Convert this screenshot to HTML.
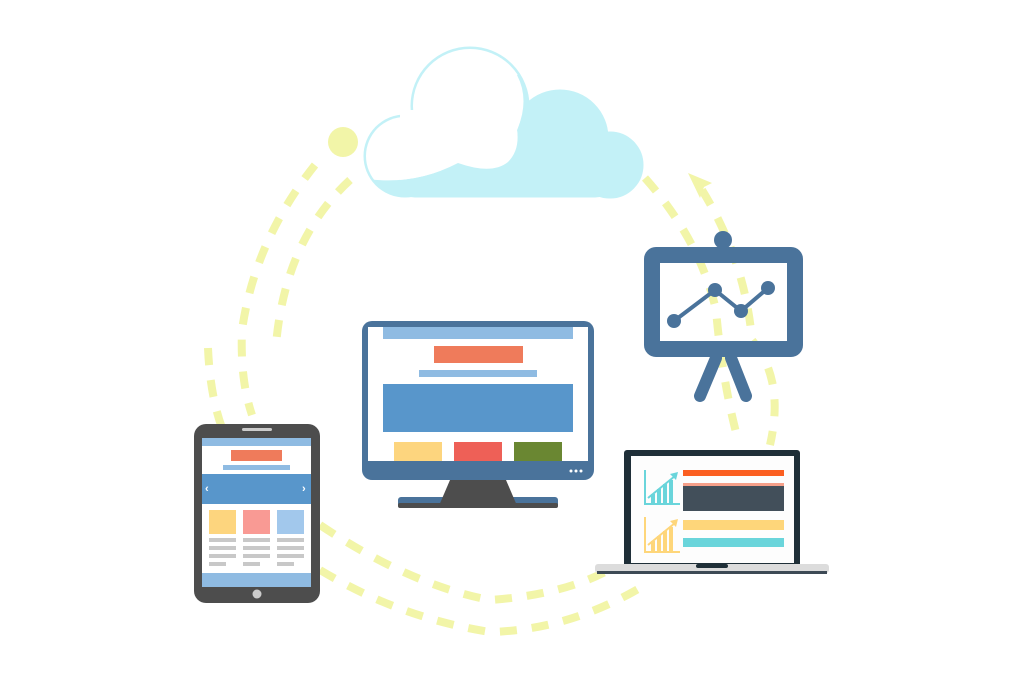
<!DOCTYPE html>
<html><head><meta charset="utf-8"><style>html,body{margin:0;padding:0;background:#fff}svg{display:block}</style></head>
<body>
<svg width="1024" height="683" viewBox="0 0 1024 683" xmlns="http://www.w3.org/2000/svg">
<defs>
<clipPath id="wc"><path d="M355,177 Q410,188 458,163 Q492,175 508,162 Q520,150 517,130 Q530,100 517,75 L595,40 L355,40 Z"/></clipPath>
</defs>
<rect width="1024" height="683" fill="#fff"/>
<!-- cloud -->
<g fill="none" stroke="#c3f1f7" stroke-width="3">
<circle cx="470" cy="106" r="58"/>
<circle cx="405" cy="156" r="40"/>
<circle cx="560" cy="138" r="47"/>
<circle cx="610" cy="165" r="32"/>
<rect x="395" y="150" width="220" height="46" rx="20"/>
</g>
<g fill="#c3f1f7">
<circle cx="470" cy="106" r="58"/>
<circle cx="405" cy="156" r="40"/>
<circle cx="560" cy="138" r="47"/>
<circle cx="610" cy="165" r="32"/>
<rect x="395" y="150" width="220" height="46" rx="20"/>
</g>
<g fill="#fff" clip-path="url(#wc)">
<circle cx="470" cy="106" r="57"/>
<circle cx="405" cy="156" r="39"/>
<rect x="400" y="110" width="120" height="70"/>
</g>
<!-- dashes -->
<g fill="none" stroke="#f2f5a8" stroke-width="8" stroke-dasharray="17 15">
<path d="M315,165 Q255,240 242,330 Q240,380 252,415"/>
<path d="M350,180 Q285,240 276,345"/>
<path d="M208,348 Q210,395 222,428"/>
<path d="M320,525 Q410,585 490,600 Q560,595 605,572"/>
<path d="M320,570 Q400,618 490,632 Q570,630 645,585"/>
<path d="M645,178 Q700,240 716,310 Q722,380 738,440"/>
<path d="M702,190 Q745,260 752,340 Q785,380 770,445"/>
</g>
<circle cx="343" cy="142" r="15" fill="#f2f5a8"/>
<path d="M688,173 L712,183 L704,187 L700,198 Z" fill="#f2f5a8"/>
<!-- easel -->
<circle cx="723" cy="240" r="9" fill="#4a739b"/>
<path d="M716,358 L700,396 M731,358 L746,396" stroke="#4a739b" stroke-width="12" stroke-linecap="round"/>
<rect x="652" y="255" width="143" height="94" rx="4" fill="none" stroke="#4a739b" stroke-width="16"/>
<polyline points="674,321 715,290 741,311 768,288" fill="none" stroke="#4a739b" stroke-width="4"/>
<g fill="#4a739b"><circle cx="674" cy="321" r="7"/><circle cx="715" cy="290" r="7"/><circle cx="741" cy="311" r="7"/><circle cx="768" cy="288" r="7"/></g>
<!-- monitor -->
<rect x="398" y="497" width="160" height="11" rx="3" fill="#4a739b"/>
<rect x="398" y="503" width="160" height="5" rx="2" fill="#4d4d4d"/>
<path d="M450,480 L506,480 L518,508 L438,508 Z" fill="#4d4d4d"/>
<rect x="362" y="321" width="232" height="159" rx="10" fill="#4a739b"/>
<rect x="368" y="327" width="220" height="134" fill="#fff"/>
<rect x="383" y="327" width="190" height="12" fill="#8fbbe2"/>
<rect x="434" y="346" width="89" height="17" fill="#ef7b5b"/>
<rect x="419" y="370" width="118" height="7" fill="#8fbbe2"/>
<rect x="383" y="384" width="190" height="48" fill="#5896cb"/>
<rect x="394" y="442" width="48" height="19" fill="#fdd57e"/>
<rect x="454" y="442" width="48" height="19" fill="#ee6057"/>
<rect x="514" y="442" width="48" height="19" fill="#6a8732"/>
<g fill="#fff"><circle cx="571" cy="471" r="1.5"/><circle cx="576" cy="471" r="1.5"/><circle cx="581" cy="471" r="1.5"/></g>
<!-- tablet -->
<rect x="194" y="424" width="126" height="179" rx="12" fill="#4d4d4d"/>
<rect x="242" y="428" width="30" height="3" rx="1.5" fill="#ccc"/>
<rect x="202" y="438" width="109" height="149" fill="#fff"/>
<rect x="202" y="438" width="109" height="8" fill="#8fbbe2"/>
<rect x="231" y="450" width="51" height="11" fill="#ef7b5b"/>
<rect x="223" y="465" width="67" height="5" fill="#8fbbe2"/>
<rect x="202" y="474" width="109" height="30" fill="#5896cb"/>
<text x="205" y="492" font-family="Liberation Sans,sans-serif" font-size="11" font-weight="bold" fill="#fff">‹</text>
<text x="302" y="492" font-family="Liberation Sans,sans-serif" font-size="11" font-weight="bold" fill="#fff">›</text>
<rect x="209" y="510" width="27" height="24" fill="#fdd57e"/>
<rect x="243" y="510" width="27" height="24" fill="#f99a94"/>
<rect x="277" y="510" width="27" height="24" fill="#a2c8ec"/>
<g fill="#c8c8c8">
<rect x="209" y="538" width="27" height="4"/><rect x="243" y="538" width="27" height="4"/><rect x="277" y="538" width="27" height="4"/>
<rect x="209" y="546" width="27" height="4"/><rect x="243" y="546" width="27" height="4"/><rect x="277" y="546" width="27" height="4"/>
<rect x="209" y="554" width="27" height="4"/><rect x="243" y="554" width="27" height="4"/><rect x="277" y="554" width="27" height="4"/>
<rect x="209" y="562" width="17" height="4"/><rect x="243" y="562" width="17" height="4"/><rect x="277" y="562" width="17" height="4"/>
</g>
<rect x="202" y="573" width="109" height="14" fill="#8fbbe2"/>
<circle cx="257" cy="594" r="4.5" fill="#ccc"/>
<!-- laptop -->
<rect x="624" y="450" width="176" height="118" rx="3" fill="#1f2f38"/>
<rect x="631" y="456" width="163" height="107" fill="#fdfdfd"/>
<rect x="595" y="564" width="234" height="9" rx="3" fill="#dcdcdc"/>
<rect x="597" y="571" width="230" height="3" fill="#3d4a55"/>
<rect x="696" y="564" width="32" height="4" rx="2" fill="#1f2f38"/>
<rect x="683" y="470" width="101" height="6" fill="#fb5f21"/>
<rect x="683" y="483" width="101" height="3" fill="#f6a08a"/>
<rect x="683" y="486" width="101" height="25" fill="#424f5a"/>
<rect x="683" y="520" width="101" height="10" fill="#fed67a"/>
<rect x="683" y="538" width="101" height="9" fill="#6ad5db"/>
<g fill="none" stroke="#6ad5db" stroke-width="2"><path d="M645,470 V504 H680"/><path d="M648,498 L675,476"/></g>
<g fill="#6ad5db"><rect x="651" y="494" width="4" height="9"/><rect x="657" y="489" width="4" height="14"/><rect x="663" y="484" width="4" height="19"/><rect x="669" y="480" width="4" height="23"/><path d="M670,474 L678,472 L676,480 Z"/></g>
<g fill="none" stroke="#fed67a" stroke-width="2"><path d="M645,517 V552 H680"/><path d="M648,545 L675,523"/></g>
<g fill="#fed67a"><rect x="651" y="541" width="4" height="10"/><rect x="657" y="536" width="4" height="15"/><rect x="663" y="531" width="4" height="20"/><rect x="669" y="527" width="4" height="24"/><path d="M670,521 L678,519 L676,527 Z"/></g>
</svg>
</body></html>
